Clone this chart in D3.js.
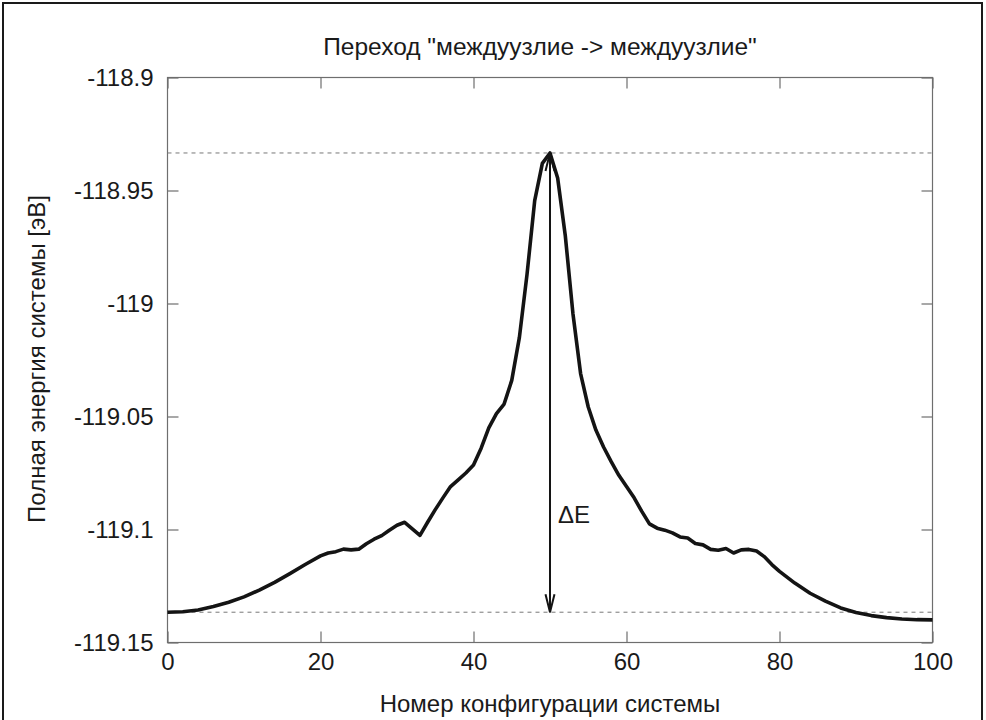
<!DOCTYPE html>
<html>
<head>
<meta charset="utf-8">
<script src="https://cdn.jsdelivr.net/npm/d3@7"></script>
<style>
  html, body { margin: 0; padding: 0; background: #fff; }
  svg { display: block; }
  text { font-family: "Liberation Sans", Arial, Helvetica, sans-serif; fill: #1a1a1a; }
</style>
</head>
<body>
<svg id="chart" width="986" height="720"></svg>
<script>
// Configuration index along the transition path
const configs = [
  0, 2, 4, 6, 8, 10, 12, 14, 16, 18, 20, 21, 22, 23, 24, 25, 26, 27, 28, 29,
  30, 31, 32, 33, 34, 35, 36, 37, 38, 39, 40, 41, 42, 43, 44, 45, 46, 47, 48, 49,
  50, 51, 52, 53, 54, 55, 56, 57, 58, 59, 60, 61, 62, 63, 64, 65, 66, 67, 68, 69,
  70, 71, 72, 73, 74, 75, 76, 77, 78, 79, 80, 82, 84, 86, 88, 90, 92, 94, 96, 98, 100
];
// Total energy of the system, eV
const energy = [
  -119.1366, -119.1364, -119.1356, -119.1341, -119.1322, -119.1298, -119.1268, -119.1234, -119.1195, -119.1155,
  -119.1117, -119.1104, -119.1098, -119.1087, -119.1090, -119.1087, -119.1063, -119.1043, -119.1027, -119.1003,
  -119.0981, -119.0968, -119.0997, -119.1026, -119.0968, -119.0912, -119.0860, -119.0810, -119.0780, -119.0750,
  -119.0715, -119.0640, -119.0550, -119.0487, -119.0445, -119.0340, -119.0150, -118.9870, -118.9545, -118.9380,
  -118.9334, -118.9445, -118.9700, -119.0045, -119.0310, -119.0458, -119.0560, -119.0635, -119.0700, -119.0760,
  -119.0810, -119.0860, -119.0920, -119.0975, -119.0994, -119.1003, -119.1015, -119.1033, -119.1038, -119.1062,
  -119.1068, -119.1088, -119.1092, -119.1084, -119.1104, -119.1090, -119.1088, -119.1095, -119.1120, -119.1155,
  -119.1185, -119.1237, -119.1282, -119.1317, -119.1347, -119.1367, -119.1381, -119.1390, -119.1396, -119.1399,
  -119.1400
];
const xTicks = [0, 20, 40, 60, 80, 100];
const yTicks = [-118.9, -118.95, -119, -119.05, -119.1, -119.15];
const yTickLabels = ["-118.9", "-118.95", "-119", "-119.05", "-119.1", "-119.15"];

const titleText = "Переход \"междуузлие -> междуузлие\"";
const xTitle = "Номер конфигурации системы";
const yTitle = "Полная энергия системы [эВ]";
const deltaLabel = "ΔE";

const fontSize = 24;
const svg = d3.select("#chart");

// outer frame of the figure
svg.append("rect")
  .attr("x", 3).attr("y", 3).attr("width", 979).attr("height", 730)
  .attr("fill", "none").attr("stroke", "#1a1a1a").attr("stroke-width", 2);

const plot = { left: 167.5, right: 932.5, top: 77.5, bottom: 642.5 };

const x = d3.scaleLinear().domain([0, 100]).range([plot.left, plot.right]);
const y = d3.scaleLinear().domain([-119.15, -118.9]).range([plot.bottom, plot.top]);

const frameColor = "#6e6e6e";

// plot box
svg.append("rect")
  .attr("x", plot.left).attr("y", plot.top)
  .attr("width", plot.right - plot.left).attr("height", plot.bottom - plot.top)
  .attr("fill", "none").attr("stroke", frameColor).attr("stroke-width", 1.2);

// inward ticks on all four sides, labels on left and bottom
const xAxisB = d3.axisBottom(x).tickValues(xTicks).tickSize(-11).tickPadding(10).tickFormat(d3.format("d"));
const xAxisT = d3.axisTop(x).tickValues(xTicks).tickSize(-11).tickFormat("");
const yAxisL = d3.axisLeft(y).tickValues(yTicks).tickSize(-11).tickPadding(14)
  .tickFormat((d, i) => yTickLabels[i]);
const yAxisR = d3.axisRight(y).tickValues(yTicks).tickSize(-11).tickFormat("");

function styleAxis(g) {
  g.select(".domain").remove();
  g.selectAll(".tick line").attr("stroke", frameColor).attr("stroke-width", 1.2);
  g.selectAll(".tick text").attr("font-size", fontSize).attr("fill", "#1a1a1a")
    .attr("font-family", "'Liberation Sans', Arial, sans-serif");
}

svg.append("g").attr("transform", `translate(0,${plot.bottom})`).call(xAxisB).call(styleAxis);
svg.append("g").attr("transform", `translate(0,${plot.top})`).call(xAxisT).call(styleAxis);
svg.append("g").attr("transform", `translate(${plot.left},0)`).call(yAxisL).call(styleAxis);
svg.append("g").attr("transform", `translate(${plot.right},0)`).call(yAxisR).call(styleAxis);

// reference levels: barrier top and initial state
const eTop = d3.max(energy);
const eBase = energy[0];
[eTop, eBase].forEach(v => {
  svg.append("line")
    .attr("x1", plot.left).attr("x2", plot.right)
    .attr("y1", y(v)).attr("y2", y(v))
    .attr("stroke", "#777").attr("stroke-width", 1)
    .attr("stroke-dasharray", "4,4");
});

// energy profile
const pts = configs.map((c, i) => [c, energy[i]]);
const line = d3.line().x(d => x(d[0])).y(d => y(d[1]));
svg.append("path")
  .datum(pts)
  .attr("d", line)
  .attr("fill", "none")
  .attr("stroke", "#141414")
  .attr("stroke-width", 3.6)
  .attr("stroke-linejoin", "round");

// double-headed arrow marking the barrier height
const peakIdx = energy.indexOf(eTop);
const ax = x(configs[peakIdx]);
const yA = y(eTop), yB = y(eBase);
const head = 18, half = 4.5;
const arrow = svg.append("g").attr("stroke", "#141414").attr("fill", "none").attr("stroke-width", 2);
arrow.append("line").attr("x1", ax).attr("x2", ax).attr("y1", yA).attr("y2", yB);
arrow.append("path").attr("d", `M${ax - half},${yB - head}L${ax},${yB}L${ax + half},${yB - head}`);
arrow.append("path").attr("d", `M${ax - half},${yA + head}L${ax},${yA}L${ax + half},${yA + head}`);

svg.append("text")
  .attr("x", ax + 8).attr("y", y(-119.0985) - 3)
  .attr("font-size", fontSize)
  .text(deltaLabel);

// titles
svg.append("text")
  .attr("x", 540).attr("y", 55)
  .attr("text-anchor", "middle").attr("font-size", 24.5)
  .text(titleText);

svg.append("text")
  .attr("x", 550).attr("y", 712)
  .attr("text-anchor", "middle").attr("font-size", fontSize)
  .text(xTitle);

svg.append("text")
  .attr("transform", `translate(45,359) rotate(-90)`)
  .attr("text-anchor", "middle").attr("font-size", fontSize)
  .text(yTitle);
</script>
</body>
</html>
